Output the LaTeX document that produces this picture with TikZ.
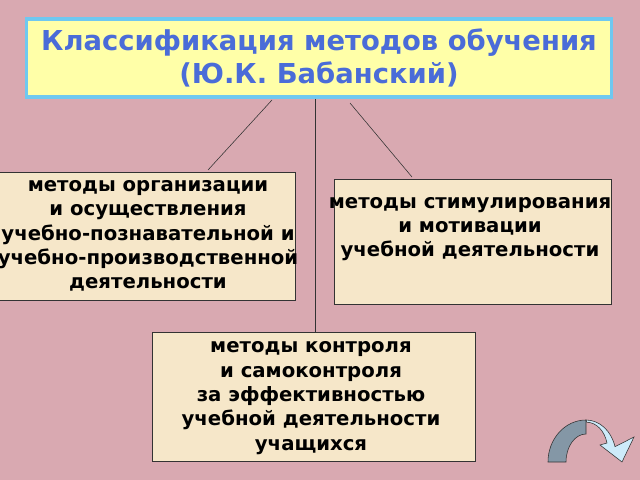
\documentclass[tikz,border=0pt]{standalone}
\usepackage{fontspec}
\setmainfont{DejaVu Sans}
\definecolor{bgpink}{HTML}{D9A9B1}
\definecolor{boxfill}{HTML}{F6E7C9}
\definecolor{titlefill}{HTML}{FFFFA8}
\definecolor{titleblue}{HTML}{4A6CD8}
\definecolor{frameblue}{HTML}{6FC8F0}
\definecolor{arrowdark}{HTML}{8497A6}
\definecolor{arrowlight}{HTML}{CDEBFA}
\tikzset{
  methodbox/.style={draw=black!80, fill=boxfill, line width=0.6pt},
  methodtext/.style={align=center, font=\bfseries\fontsize{14}{17.3}\selectfont, inner sep=0pt},
}
\begin{document}
\begin{tikzpicture}[x=0.025cm, y=-0.025cm]
    \fill[bgpink] (0,0) rectangle (640,480);
    \useasboundingbox (0,0) rectangle (640,480);

    % title
    \node[draw=frameblue, line width=2.5pt, fill=titlefill, minimum width=585*0.025cm,
      minimum height=78*0.025cm, align=center, text=titleblue,
      font=\bfseries\fontsize{19.5}{23}\selectfont] (title) at (319,58)
      {Классификация методов обучения\\(Ю.К. Бабанский)};

    % boxes
    \node[methodbox, minimum width=300*0.025cm, minimum height=128*0.025cm] (org) at (145,236) {};
    \node[methodtext] (orgtext) at (148,236)
      {методы организации\\и осуществления\\учебно-познавательной и\\учебно-производственной\\деятельности};
    \node[methodbox, minimum width=277*0.025cm, minimum height=125*0.025cm] (stim) at (473,242) {};
    \node[methodtext] (stimtext) at (470,229)
      {методы стимулирования\\и мотивации\\учебной деятельности};
    \node[methodbox, minimum width=323*0.025cm, minimum height=129*0.025cm] (ctrl) at (314,397) {};
    \node[methodtext] (ctrltext) at (311,398)
      {методы контроля\\и самоконтроля\\за эффективностью\\учебной деятельности\\учащихся};

    % connectors
    \coordinate (t1) at (272,100);
    \coordinate (t3) at (350,103);
    \draw[black!80] (t1) -- (208,170);
    \draw[black!80] (title.south -| 315,0) -- (ctrl.north -| 315,0);
    \draw[black!80] (t3) -- (412,177);

    % curved arrow icon
    \filldraw[fill=arrowdark, draw=black!80] (548,462) arc (180:270:38 and 42) -- (586,434) arc (270:180:20 and 28) -- cycle;
    \filldraw[fill=arrowlight, draw=black!80] (586,420) arc (270:345:30 and 36) -- (634,437) -- (622,462)
      -- (600,445) -- (607,443) arc (345:270:21 and 28) -- cycle;
\end{tikzpicture}
\end{document}
